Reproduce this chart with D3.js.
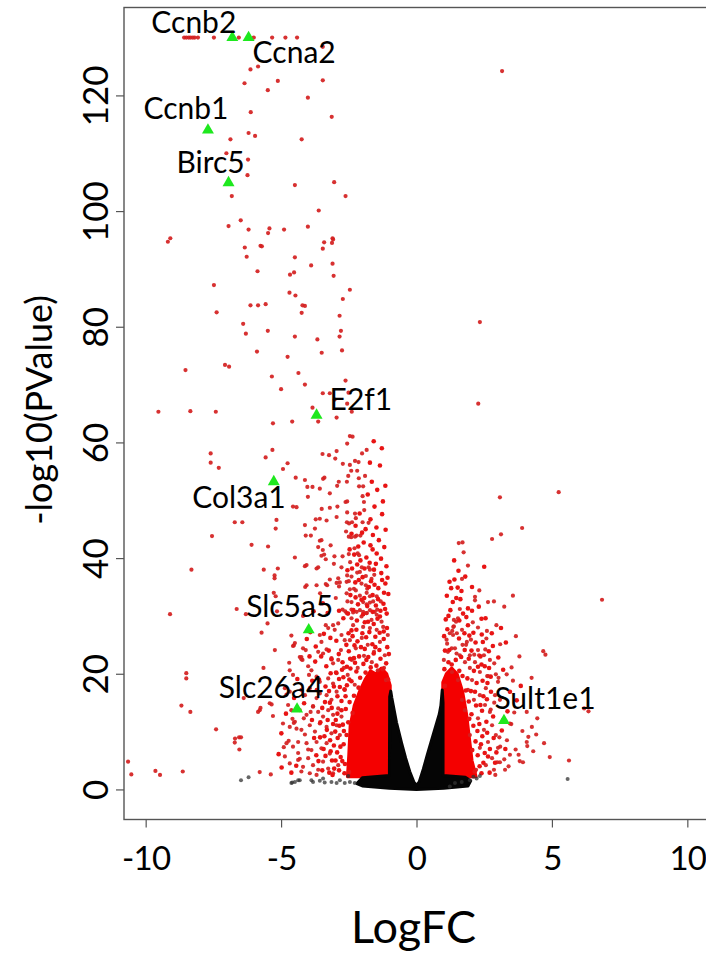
<!DOCTYPE html>
<html><head><meta charset="utf-8">
<script src="https://cdn.jsdelivr.net/npm/d3@7"></script>
<style>body{margin:0;background:#fff}svg{display:block}</style></head>
<body><script>
// ---------- data ----------
const xTicks = [-10, -5, 0, 5, 10];
const yTicks = [0, 20, 40, 60, 80, 100, 120];
const xTitle = "LogFC";
const yTitle = "-log10(PValue)";

// capped genes (-log10 p set to 130)
const cappedLogFC = [-8.58,-8.50,-8.41,-8.34,-8.26,-8.19,-8.07,-7.48,-6.56,-6.01,-5.33,-4.84,-4.41];

// significant genes (red), [logFC, -log10 p]
const sigUpper = [[-5.85,125.0],[-6.13,124.5],[-6.35,122.1],[-5.12,122.5],[-3.46,122.6],[-3.46,128.4],[-5.49,120.9],[-4.01,119.6],[-6.12,117.1],[-3.13,116.3],[-6.87,112.4],[-6.20,113.5],[-5.96,113.0],[-4.24,112.4],[-7.02,110.0],[-6.22,108.9],[-6.24,106.2],[-4.49,104.5],[-3.04,105.0],[-2.62,102.6],[-6.82,102.6],[-3.61,100.1],[-6.49,98.4],[-6.94,97.4],[-6.20,96.8],[-5.43,97.0],[-5.48,96.2],[-4.89,96.8],[-4.01,97.3],[-9.09,95.3],[-3.10,95.3],[3.16,124.2]];
const sigMiddle = [[-9.18,94.7],[-6.34,93.7],[-5.76,94.0],[-5.71,93.9],[-6.27,92.1],[-4.49,92.0],[-3.41,94.6],[-3.08,95.1],[-3.12,94.5],[-3.46,93.5],[-3.89,90.6],[-3.10,90.9],[-5.87,89.6],[-4.67,89.0],[-4.52,89.4],[-3.06,88.8],[-7.48,87.2],[-2.46,86.4],[-4.69,85.9],[-4.47,85.4],[-2.72,84.8],[-6.13,83.7],[-5.85,83.7],[-5.57,83.9],[-4.21,83.7],[-4.12,83.6],[-7.38,82.5],[-4.24,82.4],[-2.84,81.9],[-6.40,80.5],[-5.49,79.3],[-6.30,78.8],[-4.49,78.3],[-3.66,77.8],[-2.79,79.3],[-2.84,78.3],[-5.89,75.7],[-4.76,74.8],[-3.50,75.5],[-2.75,75.9],[-7.07,73.4],[-6.92,73.1],[-8.53,72.5],[-5.34,71.4],[-4.36,72.0],[-2.62,70.7],[-5.00,69.2],[-4.12,70.0],[-3.46,68.5],[-3.20,68.5],[-2.51,68.6],[-3.02,67.4],[-2.56,66.7],[-2.39,65.3],[-3.84,66.0],[-9.53,65.3],[-8.35,65.4],[-7.41,65.3],[-3.63,63.6],[-2.95,64.3],[-4.59,63.6],[-5.30,63.3],[2.34,80.8],[2.28,66.7],[3.08,50.5],[5.25,51.4],[3.90,45.2]];
const sigLowerMid = [[-2.46,61.1],[-2.36,61.0],[-2.56,59.8],[-7.60,58.1],[-7.60,56.5],[-7.30,55.6],[-5.32,58.7],[-5.57,57.4],[-4.76,56.4],[-4.93,55.4],[-3.47,58.0],[-3.23,57.8],[-2.95,58.5],[-3.00,57.2],[-2.72,56.3],[-2.46,56.1],[-2.27,56.8],[-2.14,56.6],[-2.01,58.1],[-1.84,58.7],[-2.41,55.1],[-2.19,55.1],[-4.46,53.9],[-4.12,53.5],[-3.45,53.7],[-3.40,53.9],[-3.84,52.3],[-4.03,52.3],[-3.57,52.0],[-3.20,51.2],[-2.93,52.5],[-2.87,53.2],[-2.57,53.2],[-2.52,54.2],[-2.13,53.8],[-1.90,54.2],[-2.12,52.4],[-1.97,52.4],[-2.62,49.7],[-2.56,49.8],[-1.99,50.7],[-1.94,49.7],[-4.01,50.6],[-4.56,48.9],[-4.43,48.8],[-3.50,48.5],[-3.20,48.7],[-2.92,48.9],[-2.56,47.9],[-2.27,47.7],[-1.93,48.3],[-2.95,47.1],[-2.57,46.2],[-2.49,46.0],[-2.38,46.2],[-2.24,46.9],[-1.99,46.2],[-1.77,46.1],[-3.72,46.7],[-3.57,46.8],[-3.32,46.5],[-4.12,45.7],[-5.17,46.6],[-6.71,46.2],[-6.43,46.2],[-5.20,45.1]];
const sigLower = [[-2.60,44.6],[-2.50,43.7],[-2.41,43.6],[-2.27,43.7],[-2.21,43.9],[-2.07,43.9],[-3.75,45.1],[-4.09,43.9],[-3.90,43.9],[-3.57,43.0],[-3.51,43.1],[-3.17,42.2],[-3.63,41.9],[-3.46,41.4],[-3.41,40.6],[-3.51,40.4],[-3.03,40.3],[-2.73,40.3],[-2.50,40.7],[-2.17,40.8],[-2.12,40.5],[-2.29,41.7],[-3.35,39.8],[-2.45,39.3],[-3.05,39.0],[-2.77,38.4],[-2.02,38.4],[-1.77,38.4],[-1.72,38.0],[-4.49,40.1],[-4.12,38.6],[-4.06,38.8],[-3.63,38.4],[-3.69,38.2],[-5.12,38.2],[-5.24,37.0],[-5.24,36.5],[-3.20,36.3],[-2.89,36.5],[-2.56,37.0],[-2.40,36.8],[-2.19,37.5],[-2.09,37.6],[-1.87,36.9],[-1.66,36.4],[-1.56,37.1],[-2.95,35.7],[-2.83,35.8],[-2.58,35.9],[-2.50,36.0],[-3.35,35.5],[-3.30,35.3],[-4.06,35.3],[-4.11,35.0],[-3.69,35.3],[-2.86,35.1],[-1.87,35.3],[-1.82,34.7],[-2.03,35.6],[-2.31,34.7],[-2.24,34.4],[-5.27,34.0],[-5.20,33.4],[-3.56,33.9],[-2.98,33.1],[-2.58,33.9],[-2.46,34.6],[-2.09,33.5],[-1.84,34.0],[-1.72,33.4],[-1.47,33.4],[-1.32,32.5],[-2.55,32.5],[-2.40,32.4],[-1.97,32.4],[-1.84,32.0],[-1.72,32.3],[-1.60,32.5],[-2.73,31.1],[-2.63,30.8],[-2.40,31.1],[-2.34,30.6],[-2.09,31.0],[-1.97,30.7],[-1.84,30.5],[-1.72,31.0],[-1.54,30.7],[-1.45,31.1],[-4.19,30.0],[-5.15,30.8],
[-7.55,43.8],[-6.09,42.3],[-5.48,42.0],[-8.31,38.0],[-5.64,38.0],[-6.64,31.2],[-6.30,30.3],[-9.10,30.3],[-5.50,28.7],[-5.72,27.1],[-5.23,24.1],[-5.65,21.0],[-8.50,20.1],[-8.50,19.2],[-8.68,14.5],[-8.35,13.4],[-7.40,10.4],[-6.38,15.8],[-5.79,13.7],[-5.85,13.4],[-5.42,14.9],[-5.30,12.7],[-6.70,8.8],[-6.55,9.0],[-6.48,9.0],[-6.54,6.9],[-6.71,8.1],[-10.65,4.8],[-10.53,2.6],[-9.64,3.2],[-9.47,2.5],[-8.63,3.1],[-5.79,3.0],[-5.38,2.6],[-4.62,26.6],[-4.53,24.9],[-4.70,21.9],[-4.31,22.9],[-4.25,22.5],[-4.00,21.3],[-4.80,16.4],[-4.58,12.2],[-4.53,11.5],[-4.43,10.5],[-4.90,7.3],[-4.72,8.4],[-4.37,6.3],[-4.31,5.3],[-4.00,6.9],[-4.16,12.3],[-4.12,9.5],[-3.91,13.4],[-3.82,14.4],[-5.35,14.7],[-5.76,14.1]];
const sigLeftCloud = [[-4.49,25.3],[-4.56,24.8],[-4.19,24.4],[-4.09,24.1],[-4.25,22.9],[-4.21,22.4],[-3.57,26.7],[-3.51,25.5],[-3.35,28.4],[-3.26,27.9],[-3.08,28.4],[-3.02,27.6],[-2.89,28.7],[-2.77,26.7],[-2.65,25.8],[-3.63,23.8],[-3.45,23.5],[-3.32,24.2],[-3.14,22.7],[-3.08,21.8],[-2.89,22.4],[-4.68,20.6],[-4.56,19.8],[-3.88,20.6],[-3.97,19.8],[-3.69,19.5],[-3.57,18.6],[-3.26,19.2],[-3.08,18.3],[-2.95,20.1],[-4.86,17.5],[-4.68,16.9],[-4.25,17.2],[-4.12,16.3],[-3.94,17.5],[-3.69,15.8],[-3.57,16.6],[-3.32,16.3],[-3.14,15.5],[-2.95,16.9],[-4.74,14.6],[-4.62,13.7],[-4.31,13.7],[-4.06,12.9],[-3.82,14.3],[-3.63,13.4],[-3.45,12.6],[-3.26,13.7],[-3.08,12.9],[-2.89,14.0],[-2.77,12.6],[-4.93,11.4],[-4.68,10.8],[-4.49,11.7],[-4.25,10.3],[-3.94,11.1],[-3.75,10.0],[-3.57,11.4],[-3.32,10.8],[-3.14,9.7],[-2.95,11.1],[-2.83,9.4],[-4.80,8.0],[-4.56,7.4],[-4.37,8.2],[-4.06,8.0],[-3.88,6.8],[-3.69,8.2],[-3.51,7.1],[-3.32,8.0],[-3.20,6.2],[-4.86,5.7],[-4.68,4.5],[-4.37,5.1],[-4.19,3.9],[-4.00,5.4],[-3.82,4.2],[-3.63,3.4],[-3.45,4.8],[-3.26,3.6],[-3.08,2.8],[-2.89,4.2],[-3.94,2.8],[-3.69,2.5],[-4.25,3.1],
[-2.58,30.5],[-2.40,29.6],[-2.21,30.7],[-2.03,29.9],[-1.84,30.5],[-1.66,29.3],[-1.47,30.2],[-1.29,29.0],[-2.34,28.4],[-1.97,28.1],[-1.72,27.9],[-1.47,27.6],[-1.23,28.1],
[-2.46,25.8],[-2.24,24.4],[-2.02,26.2],[-1.80,25.0],[-1.57,23.8],[-1.35,25.5],[-1.17,23.2],[-2.39,22.4],[-2.17,21.0],[-1.94,23.1],[-1.65,22.0],[-1.43,20.6],[-1.20,21.0],[-2.54,19.8],[-2.28,18.1],[-2.65,17.2],[-1.06,26.7],[-1.13,18.9],[-2.79,24.1],[-2.68,21.0]];
const sigLeftDense = [[-1.05,19.0],[-1.12,21.8],[-1.25,20.8],[-1.33,22.6],[-1.48,21.4],[-1.58,23.5],[-1.69,21.1],[-1.78,22.9],[-1.88,20.2],[-1.96,21.7],[-2.08,19.3],[-2.14,17.6],[-2.22,20.4],[-2.31,16.2],[-2.40,18.7],[-2.47,15.1],[-2.36,13.2],[-2.52,11.6],[-2.61,13.9],[-2.58,9.4],[-2.69,7.8],[-2.72,11.2],[-2.80,5.6],[-2.64,4.4],[-2.86,3.3],[-2.49,3.0],
[-1.08,24.6],[-1.21,26.0],[-1.37,24.1],[-1.52,26.4],[-1.63,25.1],[-1.74,27.2],[-1.91,24.3],[-2.00,27.0],[-2.12,23.0],[-2.18,25.6],[-2.31,22.7],[-2.36,26.5],[-2.50,23.9],[-2.44,20.9],[-2.57,18.0],[-2.70,19.4],[-2.83,17.7],[-2.77,15.3],[-2.92,13.1],[-2.85,11.0],[-3.00,10.0],[-3.05,7.6],[-2.93,6.4],[-3.12,5.0],[-3.19,8.5],[-3.04,3.6],[-3.22,2.9],[-3.36,5.8],[-3.40,9.2],[-3.28,12.0],[-3.48,14.1],[-3.20,15.0],[-3.05,17.8],[-2.97,20.2],[-3.14,22.5],[-2.87,23.4],[-2.73,22.0],
[-1.10,30.4],[-1.22,32.1],[-1.35,29.9],[-1.50,31.8],[-1.62,33.6],[-1.41,34.8],[-1.15,35.6],[-1.93,33.1],[-2.16,32.0],[-2.26,35.8],[-1.68,36.0],[-1.30,37.4],[-1.50,39.0],[-1.85,40.1],[-1.62,41.5],[-1.95,42.7],[-1.21,27.3],[-1.58,28.6],[-1.91,28.9],[-2.22,27.6],[-2.51,27.0],[-2.70,29.6],[-2.86,30.9],[-2.96,25.7],[-3.18,26.2],[-3.28,30.5],[-3.46,32.2],[-3.80,30.8],[-3.92,27.2],[-4.05,26.0],[-3.74,22.1],[-3.95,23.0],[-4.40,19.1],[-4.52,15.8],[-4.15,14.9],[-4.82,13.1],[-4.99,9.7],[-5.09,6.1],[-4.98,3.8],[-4.62,2.9],[-4.44,4.1],[-3.70,5.9],[-3.56,9.0],[-3.86,12.0],[-3.36,17.8],[-3.68,17.2],
[-1.02,23.4],[-1.09,27.9],[-1.16,31.2],[-1.04,33.8],[-1.11,38.6],[-1.19,41.9],[-1.27,36.2],[-1.31,39.9],[-1.39,43.1],[-1.36,27.1],[-1.44,29.5],[-1.42,32.9],[-1.55,35.4],[-1.57,38.0],[-1.47,40.8],[-1.61,44.0],[-1.70,42.2],[-1.73,39.2],[-1.76,35.0],[-1.82,31.7],[-1.79,29.0],[-1.86,26.3],[-1.97,30.3],[-2.03,32.8],[-1.99,36.7],[-2.07,39.6],[-2.01,44.4],[-2.15,42.0],[-2.19,38.9],[-2.13,36.2],[-2.25,33.2],[-2.20,29.2],[-2.33,31.0],[-2.29,24.9],[-2.40,27.5],[-2.44,33.6],[-2.38,38.2],[-2.47,41.5],[-2.55,37.9],[-2.53,30.4],[-2.59,25.0],[-2.57,21.2],[-2.48,19.0],[-2.62,16.1],[-1.14,44.9],[-1.27,47.6],[-1.55,48.9],[-1.70,46.7],[-1.48,45.3],[-1.24,49.8],[-1.80,51.0],[-1.65,53.2],[-1.45,51.8],[-1.15,52.5],[-1.35,56.0],[-1.72,56.5],[-1.58,60.2],[-1.28,59.0],
[-1.07,36.6],[-1.20,34.0],[-1.33,30.9],[-1.52,24.6],[-1.62,30.7],[-1.85,22.4],[-2.05,24.6],[-2.27,21.9],[-2.45,22.6],[-1.92,38.2],[-2.30,40.6],[-2.40,44.2],[-2.25,45.6],[-1.88,45.0],[-2.10,47.7],
[-2.66,2.8],[-2.74,4.9],[-2.81,7.4],[-2.68,10.1],[-2.77,13.7],[-2.66,17.3],[-2.75,20.7],[-2.86,19.1],[-2.92,16.1],[-2.98,12.0],[-2.91,8.9],[-2.99,5.0],[-3.10,2.5],[-3.17,6.6],[-3.08,11.3],[-3.13,14.1],[-3.23,17.0],[-3.17,20.1],[-3.24,24.0],[-3.33,21.3],[-3.38,15.1],[-3.31,10.3],[-3.43,7.0],[-3.48,3.3],[-3.55,11.6],[-3.60,19.0],[-3.52,23.0],[-3.42,26.9],[-3.62,4.9],[-3.78,8.9],[-3.85,18.8],[-3.72,24.7]];
const sigRight = [[3.12,44.1],[2.79,43.3],[1.56,42.6],[1.70,42.7],[1.74,41.0],[1.90,38.7],[1.68,36.4],[6.85,32.8],[2.32,34.4],[2.16,33.3],[2.16,32.7],[2.64,32.4],[2.86,32.5],[3.56,33.5],[3.24,31.6],[1.60,31.2],[1.38,29.3],[1.53,29.6],[2.08,28.9],[2.27,28.0],[2.60,27.4],[2.95,28.4],[1.32,27.4],[1.38,28.2],[1.49,27.0],[1.13,25.2],[1.35,26.7],[1.86,25.5],[2.01,25.9],[1.70,25.0],[2.58,26.1],[2.54,24.2],[3.09,25.1],[3.67,26.5],[3.80,23.0],[4.68,23.9],[4.76,23.3],[2.13,23.3],[2.31,23.2],[2.87,21.8],[3.51,21.1],[3.33,19.9],[4.25,19.3],[2.93,19.9],[3.03,19.3],[3.56,18.8],[2.61,19.6],[6.19,14.0],[6.35,13.5],[4.07,13.4],[3.61,13.3],[4.46,12.3],[3.50,11.3],[4.26,10.8],[3.91,10.1],[4.42,9.5],[4.13,9.1],[4.71,8.0],[4.07,8.2],[4.09,7.5],[4.31,6.6],[3.66,6.9],[3.77,6.0],[3.93,4.7],[3.81,4.9],[4.92,5.6],[5.63,5.0],[3.24,5.2],[3.40,4.0],[3.45,6.0],[2.91,2.5],[2.98,4.7],[3.09,7.4],[3.06,9.0],[3.45,11.4],[2.74,13.8],[2.87,15.0],
[1.16,23.8],[1.42,24.4],[1.60,23.2],[1.79,22.0],[1.97,21.0],[1.31,20.3],[1.53,18.9],[2.16,22.0],[2.34,20.3],[1.90,17.2],[2.12,15.5],[2.34,16.3],[2.56,17.5],[2.53,14.6],[2.71,13.4],[2.27,12.3],[2.79,11.1],[2.49,10.3],[2.93,9.4],[2.64,8.2],[3.01,7.2],[2.34,7.2],[2.79,5.4],[3.08,4.7],[2.56,4.2],[2.86,3.4],[2.20,3.4],[3.27,3.4],[1.97,9.4],[1.79,13.7],[1.68,15.5],[2.05,18.9],[2.64,19.6],[2.90,16.3],[3.08,15.5],[3.19,12.0],[3.34,8.5],[1.97,23.2],[2.27,24.1],[2.71,22.4],[3.01,18.6],[2.49,23.2],[1.11,25.9],[1.23,27.0],[1.46,29.0],[1.36,28.1],[1.30,24.4],[1.48,23.5],[1.68,27.6],[1.83,25.0],[1.01,22.4]];
const sigRightDense = [[1.03,20.8],[1.18,22.0],[1.30,21.6],[1.45,22.4],[1.58,20.5],[1.70,19.6],[1.82,17.1],[1.93,15.2],[2.03,13.0],[2.10,11.0],[2.18,8.3],[2.26,5.9],[2.33,4.0],[2.40,2.8],[2.15,3.1],[2.06,6.8],[1.95,12.2],[1.88,19.2],[2.01,17.0],[2.20,14.5],[2.32,11.3],[2.43,9.2],[2.52,6.3],[2.64,5.7],[2.70,2.9],[2.58,11.7],[2.42,13.6],[2.22,18.4],[2.44,18.8],[2.60,15.6],[2.75,16.9],[2.83,12.6],[2.95,6.4],[3.15,10.2],[3.28,7.0],[3.36,13.5],[2.68,21.0],[2.40,21.6],[2.12,20.5],[1.78,24.1],[1.57,26.1],[1.14,27.7],[1.05,24.0],[1.90,28.4],[1.72,30.4],[1.25,31.0],[1.47,33.1],[1.90,31.3],[2.45,25.5],[2.82,24.8],[3.02,22.8],[3.20,20.7],[3.45,16.9],[3.70,15.4],[3.85,17.9],[3.30,25.4],[3.12,27.9],[2.40,29.5],[2.05,35.0],[1.55,37.8],[2.50,38.5],[1.28,34.8],
[1.02,26.5],[1.08,29.4],[1.18,30.0],[1.12,33.5],[1.22,35.9],[1.34,32.4],[1.40,36.3],[1.52,34.9],[1.62,32.9],[1.58,29.2],[1.77,27.0],[1.84,29.8],[1.95,26.6],[2.03,24.0],[2.10,27.1],[2.18,25.4],[2.27,21.2],[2.36,23.0],[2.41,26.8],[2.52,21.3],[2.62,18.4],[2.67,23.9],[2.74,19.5],[2.47,16.1],[2.36,14.6],[2.16,16.9],[2.25,10.1],[2.38,7.8],[2.47,4.6],[2.61,9.8],[2.71,7.0],[2.85,8.9],[2.90,4.6],[2.05,30.9],[1.66,34.3],[1.80,36.8],[1.39,39.6],[1.93,22.6],[1.65,22.9],[1.21,24.1],[2.30,31.6],[2.55,29.6],[2.78,27.0],[1.05,17.9]];

// outlines of the saturated (overplotted) clouds, [logFC, -log10 p]
const leftCloudOutline = [[-0.97,2.2],[-0.97,18],[-1.1,20],[-1.3,21],[-1.5,20],[-1.7,20.5],[-1.9,19],[-2.1,17],[-2.3,14.5],[-2.45,11],[-2.5,6],[-2.55,2.2]];
const rightCloudOutline = [[0.97,2.2],[0.97,18.5],[1.1,20],[1.3,21],[1.5,20],[1.7,17],[1.85,13],[1.95,9],[2.05,5],[2.2,2.2]];
const nonSigOutline = [[-2.2,1.0],[-2.0,2.0],[-1.0,2.4],[-0.99,16.0],[-0.95,17.0],[-0.91,15.8],[-0.74,11.6],[-0.55,8.0],[-0.40,5.4],[-0.25,3.1],[-0.1,1.3],[0,0.7],[0.1,1.3],[0.25,3.5],[0.4,6.0],[0.6,9.2],[0.75,11.6],[0.84,13.0],[0.9,14.5],[0.95,17.2],[0.98,15.0],[0.98,2.4],[1.8,2.1],[2.0,1.5],[1.9,0.6],[1.0,0.2],[0,0.0],[-1.0,0.2],[-2.0,0.6]];
const nonSigPoints = [[-6.48,1.6],[-6.20,2.1],[-4.62,1.1],[-4.49,1.3],[-4.37,1.6],[-4.59,1.2],[-4.31,1.6],[-3.88,1.6],[-3.82,1.3],[-3.57,1.5],[-3.45,1.9],[-3.39,1.2],[-3.14,1.3],[-2.95,1.1],[-2.83,1.6],[-2.65,1.1],[-2.46,1.3],[-2.28,1.1],[-2.52,2.3],[1.97,1.6],[2.10,2.2],[2.22,1.9],[2.34,2.3],[1.67,1.3],[1.42,1.1],[1.23,0.5],[5.58,1.8]];

// highlighted genes
const geneNames = ["Ccnb2","Ccna2","Ccnb1","Birc5","E2f1","Col3a1","Slc5a5","Slc26a4","Sult1e1"];
const geneLogFC = [-6.80,-6.20,-7.70,-6.94,-3.69,-5.27,-3.98,-4.41,3.23];
const geneP     = [130,130,114.0,104.9,64.7,53.2,27.6,13.9,11.9];

// ---------- layout / style ----------
const W = 706, H = 953;
const labelPlace = [
  {a:"end",dx:4,dy:-5},{a:"start",dx:4,dy:25},{a:"middle",dx:-22,dy:-11},
  {a:"middle",dx:-18,dy:-10},{a:"start",dx:13,dy:-5},{a:"end",dx:12,dy:26},
  {a:"middle",dx:-19,dy:-13},{a:"middle",dx:-26,dy:-11},{a:"middle",dx:41,dy:-12}];
const FONT = "Lato, 'Open Sans', sans-serif";
const box = {l:124, r:709, t:7.5, b:819.5};

const svg = d3.select("body").append("svg").attr("width",W).attr("height",H);
const x = d3.scaleLinear().domain([-10.8,10.8]).range([box.l, box.r]);
const y = d3.scaleLinear().domain([-5.2,135.2]).range([box.b, box.t]);

svg.append("clipPath").attr("id","clip").append("rect")
  .attr("x",box.l).attr("y",box.t).attr("width",box.r-box.l).attr("height",box.b-box.t);
const plot = svg.append("g").attr("clip-path","url(#clip)");

const area = d3.line().x(d=>x(d[0])).y(d=>y(d[1])).curve(d3.curveLinearClosed);
[leftCloudOutline, rightCloudOutline].forEach(o=>{
  plot.append("path").attr("d",area(o)).attr("fill","#f40000")
    .attr("stroke","#f40000").attr("stroke-width",3).attr("stroke-linejoin","round");
});

const red = [].concat(sigUpper, sigMiddle, sigLowerMid, sigLower, sigLeftCloud, sigRight,
  cappedLogFC.map(v=>[v,130]));
plot.append("g").selectAll("circle").data(red).join("circle")
  .attr("cx",d=>x(d[0])).attr("cy",d=>y(d[1])).attr("r",2.1)
  .attr("fill","#d42020").attr("fill-opacity",0.92);
plot.append("g").selectAll("circle").data([].concat(sigLeftDense, sigRightDense)).join("circle")
  .attr("cx",d=>x(d[0])).attr("cy",d=>y(d[1])).attr("r",2.3)
  .attr("fill","#e81414");

plot.append("path").attr("d",area(nonSigOutline)).attr("fill","#050505")
  .attr("stroke","#050505").attr("stroke-width",3).attr("stroke-linejoin","round");
plot.append("g").selectAll("circle").data(nonSigPoints).join("circle")
  .attr("cx",d=>x(d[0])).attr("cy",d=>y(d[1])).attr("r",2)
  .attr("fill","#333").attr("fill-opacity",0.75);

// highlighted genes
const tri = d3.symbol().type(d3.symbolTriangle).size(62);
const genes = geneNames.map((n,i)=>({n, lx:geneLogFC[i], p:geneP[i], s:labelPlace[i]}));
plot.append("g").selectAll("path").data(genes).join("path")
  .attr("d",tri).attr("transform",d=>`translate(${x(d.lx)},${y(d.p)})`)
  .attr("fill","#1ee81e");
svg.append("g").selectAll("text").data(genes).join("text")
  .attr("x",d=>x(d.lx)+d.s.dx).attr("y",d=>y(d.p)+d.s.dy)
  .attr("text-anchor",d=>d.s.a).attr("font-family",FONT).attr("font-size",30)
  .attr("fill","#000").text(d=>d.n);

// frame
svg.append("rect").attr("x",box.l).attr("y",box.t).attr("width",box.r-box.l).attr("height",box.b-box.t)
  .attr("fill","none").attr("stroke","#555").attr("stroke-width",1.4);

// axes
const xa = svg.append("g").attr("transform",`translate(0,${box.b})`)
  .call(d3.axisBottom(x).tickValues(xTicks).tickSize(8).tickFormat(d=>d<0?"-"+Math.abs(d):d));
xa.select(".domain").remove();
xa.selectAll("line").attr("stroke","#555").attr("stroke-width",1.2);
xa.selectAll("text").attr("font-family",FONT).attr("font-size",33).attr("fill","#000")
  .attr("letter-spacing",-0.8).attr("dy",0).attr("y",50);

const ya = svg.append("g").attr("transform",`translate(${box.l},0)`)
  .call(d3.axisLeft(y).tickValues(yTicks).tickSize(8));
ya.select(".domain").remove();
ya.selectAll("line").attr("stroke","#555").attr("stroke-width",1.2);
ya.selectAll("text").attr("font-family",FONT).attr("font-size",35).attr("fill","#000")
  .attr("text-anchor","middle").attr("x",0).attr("dy",0)
  .attr("transform","translate(-16,0) rotate(-90)");

svg.append("text").attr("x",(box.l+box.r)/2 - 3).attr("y",943).attr("text-anchor","middle")
  .attr("font-family",FONT).attr("font-size",45).attr("fill","#000").text(xTitle);
svg.append("text").attr("transform","translate(52,410) rotate(-90)").attr("text-anchor","middle")
  .attr("font-family",FONT).attr("font-size",36).attr("fill","#000").text(yTitle);
</script></body></html>
